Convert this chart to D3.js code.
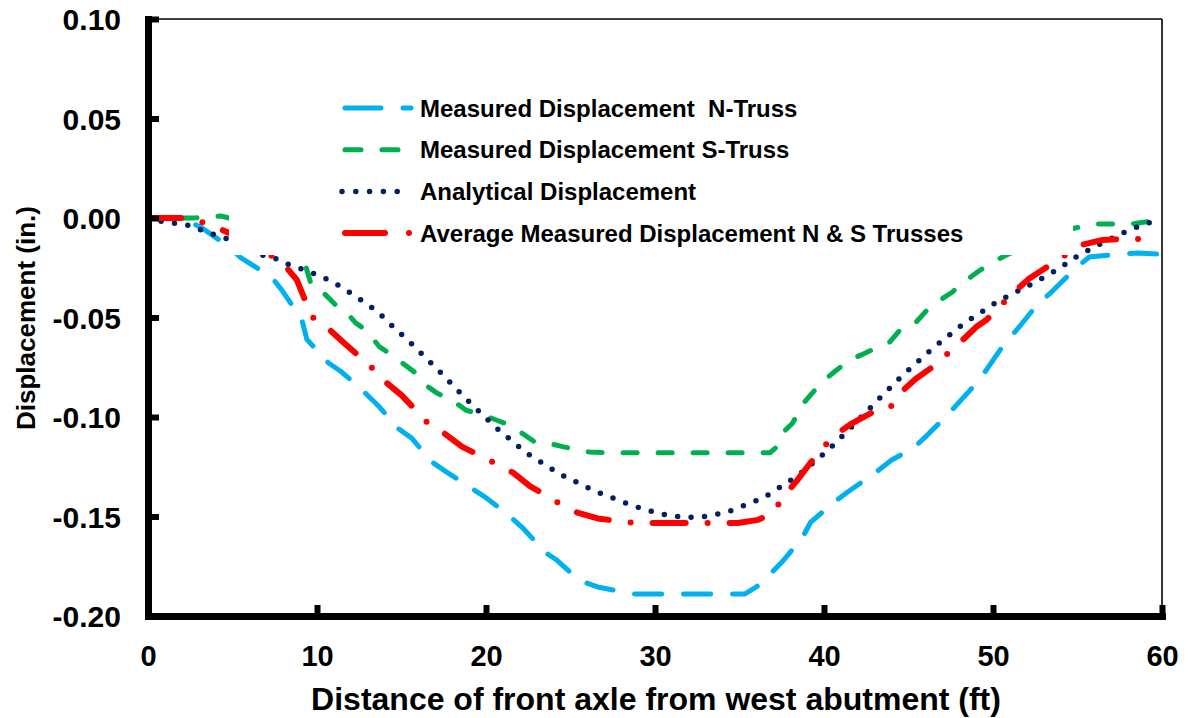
<!DOCTYPE html>
<html>
<head>
<meta charset="utf-8">
<script src="https://cdn.jsdelivr.net/npm/d3@7"></script>
<style>
  body { margin: 0; background: #fff; }
  text { font-family: "Liberation Sans", Arial, sans-serif; font-weight: bold; fill: #000; }
</style>
</head>
<body>
<div class="chart"></div>
<script>
// data: [distance (ft), displacement (in.)]
var nTruss = [[0,0],[2.1,-0.0005],[3.2,-0.005],[4.8,-0.0146],[5.5,-0.020],[7.3,-0.0296],[7.9,-0.036],[9.1,-0.051],
  [9.4,-0.061],[10.7,-0.073],[11.4,-0.077],[12.5,-0.085],[13.7,-0.095],[14.75,-0.1055],[15.6,-0.1106],[16.8,-0.1226],
  [17.65,-0.1276],[19.0,-0.135],[19.9,-0.140],[21.3,-0.149],[22.2,-0.156],[23.5,-0.168],[24.2,-0.172],[25.5,-0.182],
  [26.6,-0.1854],[28.7,-0.189],[31.75,-0.189],[34.4,-0.189],[35.3,-0.189],[36.0,-0.1854],[36.8,-0.179],[37.5,-0.173],
  [38.7,-0.161],[39.2,-0.153],[40.6,-0.1427],[41.4,-0.1377],[43.1,-0.1276],[44.0,-0.1216],[45.3,-0.1156],[46.0,-0.110],
  [47.3,-0.099],[48.0,-0.0925],[49.2,-0.0814],[49.6,-0.0764],[50.7,-0.0628],[51.4,-0.0563],[52.6,-0.0437],[53.4,-0.0377],
  [54.9,-0.0251],[55.7,-0.0196],[57.6,-0.0181],[58.6,-0.0176],[59.7,-0.0181]];

var sTruss = [[0,0],[2.7,0],[3.4,0.0005],[4.3,0.001],[4.8,0],[5.3,-0.003],[6.5,-0.008],[8.0,-0.014],[8.83,-0.0186],
  [9.36,-0.025],[9.7,-0.0347],[10.4,-0.0377],[11.1,-0.0437],[11.7,-0.047],[12.3,-0.0528],[12.9,-0.0563],[13.7,-0.0648],
  [14.45,-0.0688],[15.05,-0.0729],[15.76,-0.0774],[16.5,-0.0844],[17.1,-0.088],[18.07,-0.092],[18.8,-0.0965],[19.8,-0.099],
  [20.6,-0.1015],[21.5,-0.1045],[22.1,-0.108],[22.9,-0.1126],[23.6,-0.113],[24.6,-0.115],[26.1,-0.1176],[27.3,-0.118],
  [30,-0.118],[33,-0.118],[36.8,-0.118],[37.2,-0.115],[37.6,-0.1075],[38.15,-0.103],[38.7,-0.094],[39.3,-0.088],
  [39.9,-0.0824],[40.6,-0.0774],[41.5,-0.0714],[42.2,-0.0688],[43.2,-0.0648],[43.9,-0.0623],[44.6,-0.0553],[45.4,-0.0528],
  [46.1,-0.0462],[46.7,-0.0422],[47.6,-0.0372],[48.2,-0.0327],[49.1,-0.027],[49.9,-0.0226],[50.8,-0.0186],[52.5,-0.012],
  [54.2,-0.007],[54.85,-0.005],[56.2,-0.003],[57.2,-0.003],[58.2,-0.003],[59.0,-0.002],[59.7,-0.0015]];

var analytical = [[0,0],[0.7,-0.0015],[2.3,-0.0035],[3.8,-0.008],[4.56,-0.010],[6.75,-0.0186],[7.46,-0.020],[8.2,-0.023],
  [8.9,-0.025],[9.7,-0.0276],[10.4,-0.030],[11.1,-0.033],[11.8,-0.0367],[12.4,-0.040],[13.1,-0.044],[13.7,-0.048],
  [14.3,-0.053],[15.48,-0.0623],[17.18,-0.0765],[18.84,-0.091],[20.54,-0.105],[22.38,-0.118],[24.39,-0.1288],
  [26.52,-0.1375],[28.73,-0.1447],[30.25,-0.1486],[31.8,-0.1506],[33.0,-0.150],[34.2,-0.148],[36.4,-0.1407],
  [38.37,-0.130],[40.2,-0.117],[41.9,-0.1027],[43.0,-0.093],[44.69,-0.0787],[46.46,-0.0653],[48.3,-0.0528],
  [50.34,-0.0416],[52.45,-0.0325],[53.8,-0.026],[55.1,-0.0186],[56.53,-0.0122],[57.96,-0.0064],[59.44,-0.0017],[59.7,-0.001]];

var average = [[0,0],[2.4,0],[3.7,-0.0035],[4.8,-0.0075],[6.5,-0.015],[7.9,-0.022],[8.8,-0.031],[9.7,-0.0497],
  [10.7,-0.0558],[11.6,-0.0628],[13.1,-0.0739],[14.0,-0.082],[15.0,-0.089],[16.5,-0.1025],[17.5,-0.108],[18.6,-0.115],
  [20.4,-0.1226],[21.6,-0.128],[22.6,-0.1347],[24.2,-0.1427],[25.4,-0.148],[26.6,-0.151],[28.8,-0.1533],[30.15,-0.1533],
  [31.3,-0.1533],[33.6,-0.1533],[34.9,-0.1533],[36.1,-0.1517],[37.0,-0.148],[37.6,-0.140],[38.4,-0.132],[39.2,-0.123],
  [40.5,-0.110],[41.6,-0.1035],[42.8,-0.098],[43.9,-0.0955],[44.5,-0.088],[45.4,-0.081],[46.4,-0.075],[48.0,-0.063],
  [49.0,-0.0548],[49.6,-0.0513],[51.2,-0.0377],[52.1,-0.0307],[53.2,-0.0246],[55.2,-0.0136],[56.5,-0.011],
  [57.7,-0.0106],[59.7,-0.0106]];

var xTicks = [0, 10, 20, 30, 40, 50, 60];
var yTicks = [-0.20, -0.15, -0.10, -0.05, 0.00, 0.05, 0.10];
var yTickLabels = ["-0.20", "-0.15", "-0.10", "-0.05", "0.00", "0.05", "0.10"];
var seriesNames = ["Measured Displacement  N-Truss", "Measured Displacement S-Truss",
  "Analytical Displacement", "Average Measured Displacement N & S Trusses"];

var svgWidth = 1194;
var svgHeight = 718;
var plot = { left: 148, right: 1162, top: 19, bottom: 616 };

var svg = d3.select(".chart")
  .append("svg")
  .attr("width", svgWidth)
  .attr("height", svgHeight);

var xScale = d3.scaleLinear().domain([0, 60]).range([plot.left, plot.right]);
var yScale = d3.scaleLinear().domain([-0.2, 0.1]).range([plot.bottom, plot.top]);

// series styles (dash patterns as seen along the curves)
var styles = [
  { data: nTruss, color: "#00B0F0", width: 5, dash: "27 22", legDash: "36 22" },
  { data: sTruss, color: "#00B050", width: 5, dash: "14 21", legDash: "16 21" },
  { data: analytical, color: "#002060", width: 5.5, dash: "0 13.5", legDash: "0 13.8" },
  { data: average, color: "#FF0000", width: 6, dash: "33 22 0 22", legDash: "40 24 0 30" }
];

var line = d3.line()
  .x(function(d) { return xScale(d[0]); })
  .y(function(d) { return yScale(d[1]); });

styles.forEach(function(s) {
  svg.append("path")
    .datum(s.data)
    .attr("d", line)
    .attr("fill", "none")
    .attr("stroke", s.color)
    .attr("stroke-width", s.width)
    .attr("stroke-linecap", "round")
    .attr("stroke-linejoin", "round")
    .attr("stroke-dasharray", s.dash);
});

// legend sits on a white box that hides the lines behind it
svg.append("rect")
  .attr("x", 229).attr("y", 80)
  .attr("width", 844).attr("height", 175)
  .attr("fill", "#fff");

styles.forEach(function(s, i) {
  var cy = 108 + i * 41.7;
  svg.append("line")
    .attr("x1", i == 2 ? 342 : 345).attr("x2", 411)
    .attr("y1", cy).attr("y2", cy)
    .attr("stroke", s.color)
    .attr("stroke-width", s.width)
    .attr("stroke-linecap", "round")
    .attr("stroke-dasharray", s.legDash);
  svg.append("text")
    .attr("x", 420).attr("y", cy + 8.5)
    .style("font-size", "24px")
    .style("white-space", "pre")
    .text(seriesNames[i]);
});

// thin frame on top and right
svg.append("line").attr("x1", plot.left).attr("x2", plot.right)
  .attr("y1", plot.top).attr("y2", plot.top)
  .attr("stroke", "#000").attr("stroke-width", 1.6);
svg.append("line").attr("x1", plot.right).attr("x2", plot.right)
  .attr("y1", plot.top).attr("y2", plot.bottom)
  .attr("stroke", "#000").attr("stroke-width", 1.6);

var bottomAxis = d3.axisBottom(xScale)
  .tickValues(xTicks)
  .tickSizeInner(-11)
  .tickSizeOuter(0)
  .tickPadding(29)
  .tickFormat(d3.format("d"));

var leftAxis = d3.axisLeft(yScale)
  .tickValues(yTicks)
  .tickSizeInner(-11)
  .tickSizeOuter(0)
  .tickPadding(27)
  .tickFormat(function(d, i) { return yTickLabels[i]; });

var gx = svg.append("g")
  .attr("transform", "translate(0," + plot.bottom + ")")
  .call(bottomAxis);

var gy = svg.append("g")
  .attr("transform", "translate(" + plot.left + ",0)")
  .call(leftAxis);

[gx, gy].forEach(function(g) {
  g.select(".domain").attr("stroke", "#000").attr("stroke-width", 7).attr("stroke-linecap", "square");
  g.selectAll(".tick line").attr("stroke", "#000").attr("stroke-width", 6);
  g.selectAll(".tick text")
    .attr("font-family", null)
    .attr("font-size", null);
});
gx.selectAll(".tick text").style("font-size", "29px");
gy.selectAll(".tick text").style("font-size", "30px").attr("dy", "0.36em");

// axis titles
svg.append("text")
  .attr("x", 656).attr("y", 710)
  .style("text-anchor", "middle")
  .style("font-size", "32px")
  .text("Distance of front axle from west abutment (ft)");

svg.append("text")
  .attr("transform", "translate(35,318) rotate(-90)")
  .style("text-anchor", "middle")
  .style("font-size", "26px")
  .text("Displacement (in.)");
</script>
</body>
</html>
